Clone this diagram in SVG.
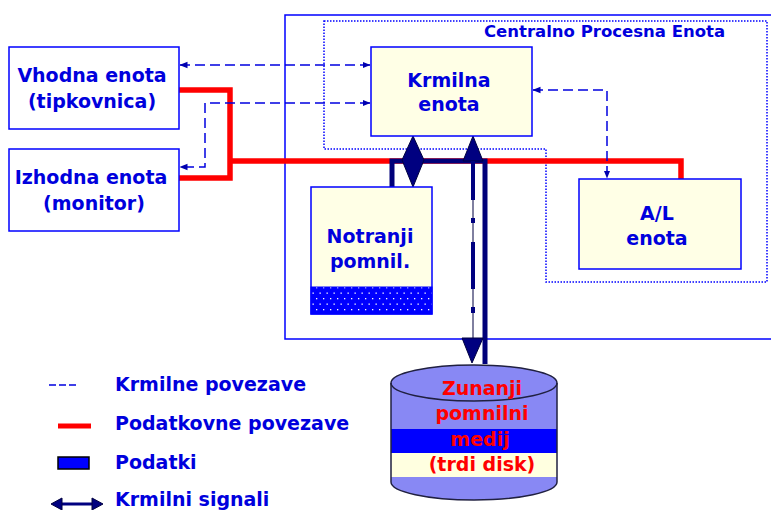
<svg xmlns="http://www.w3.org/2000/svg" width="771" height="510" viewBox="0 0 771 510">
<style>
text{font-family:"DejaVu Sans",Verdana,sans-serif;font-weight:bold;font-size:19px;fill:#0000dd}
.c{text-anchor:middle}
.red{fill:#ff0000}
.box{fill:#ffffff;stroke:#0000ff;stroke-width:1.5}
.ybox{fill:#ffffe6;stroke:#0000ff;stroke-width:1.5}
.ctl{fill:none;stroke:#0000e0;stroke-width:1.5;stroke-dasharray:10 5}
.data{fill:none;stroke:#ff0000;stroke-width:5.5}
.navy{fill:#000080;stroke:#000040;stroke-width:1}
</style>
<defs>
<marker id="ah" viewBox="0 0 8 8" refX="7.5" refY="4" markerWidth="8" markerHeight="8" markerUnits="userSpaceOnUse" orient="auto-start-reverse">
<path d="M0,0.8 L8,4 L0,7.2 z" fill="#0000b0"/>
</marker>
<pattern id="dots" width="7" height="11" patternUnits="userSpaceOnUse">
<rect width="7" height="11" fill="#0000ff"/>
<rect x="1" y="1" width="1.3" height="1.3" fill="#ffffff"/>
<rect x="4.5" y="6.5" width="1.3" height="1.3" fill="#ffffff"/>
</pattern>
<clipPath id="cyl"><path d="M391,383 V482 A83,18 0 0 0 557,482 V383 A83,18 0 0 0 391,383 z"/></clipPath>
</defs>

<g id="cpu-frame">
<rect x="285" y="15" width="500" height="324" fill="none" stroke="#0000ff" stroke-width="1.5"/>
<path d="M324,21 H767 V282 H546 V149 H324 z" fill="none" stroke="#0000ff" stroke-width="1.5" stroke-dasharray="1.5 1.5"/>
<text x="484" y="37" style="font-size:16.5px">Centralno Procesna Enota</text>
</g>

<g id="connectors">
<path class="data" d="M179,90 H230 V178 H179"/>
<path class="data" d="M230,161 H681 V179"/>
<path class="ctl" d="M180,65 H370" marker-start="url(#ah)" marker-end="url(#ah)"/>
<path class="ctl" d="M370,103 H205 V167 H180" marker-start="url(#ah)" marker-end="url(#ah)"/>
<path class="ctl" d="M533,90 H607 V178" marker-start="url(#ah)" marker-end="url(#ah)"/>
<path d="M392,187 V161 H485 V364" fill="none" stroke="#00007a" stroke-width="5"/>
<polygon class="navy" points="413,136 424,160 413,187 402,160"/>
<polygon class="navy" points="473,136 483,161 463,161"/>
<line x1="473" y1="161" x2="473" y2="340" stroke="#000040" stroke-width="1"/>
<g fill="#000080">
<rect x="471" y="161" width="4" height="39"/>
<rect x="471" y="218" width="4" height="5"/>
<rect x="471" y="242" width="4" height="47"/>
<rect x="471" y="307" width="4" height="6"/>
</g>
<polygon class="navy" points="462,338 483,338 472,363"/>
</g>

<g id="vhodna">
<rect class="box" x="9" y="47" width="170" height="82"/>
<text class="c" x="92" y="82">Vhodna enota</text>
<text class="c" x="92" y="108">(tipkovnica)</text>
</g>

<g id="izhodna">
<rect class="box" x="9" y="149" width="170" height="82"/>
<text class="c" x="91" y="184">Izhodna enota</text>
<text class="c" x="94" y="210">(monitor)</text>
</g>

<g id="krmilna">
<rect class="ybox" x="371" y="47" width="161" height="89"/>
<text class="c" x="449" y="87">Krmilna</text>
<text class="c" x="449" y="111">enota</text>
</g>

<g id="al">
<rect class="ybox" x="579" y="179" width="162" height="90"/>
<text class="c" x="657" y="220">A/L</text>
<text class="c" x="657" y="245">enota</text>
</g>

<g id="notranji">
<rect class="ybox" x="311" y="187" width="121" height="127"/>
<rect x="311" y="287" width="121" height="27" fill="url(#dots)" stroke="#0000ff" stroke-width="1"/>
<text class="c" x="370" y="243">Notranji</text>
<text class="c" x="370" y="268">pomnil.</text>
</g>

<g id="disk">
<path d="M391,383 V482 A83,18 0 0 0 557,482 V383 A83,18 0 0 0 391,383 z" fill="#8888f4"/>
<g clip-path="url(#cyl)">
<rect x="391" y="429" width="166" height="24" fill="#0000ff"/>
<rect x="391" y="453" width="166" height="24" fill="#ffffe0"/>
</g>
<path d="M391,383 V482 A83,18 0 0 0 557,482 V383" fill="none" stroke="#202040" stroke-width="1.5"/>
<ellipse cx="474" cy="383" rx="83" ry="18" fill="none" stroke="#202040" stroke-width="1.5"/>
<text class="c red" x="482" y="395">Zunanji</text>
<text class="c red" x="482" y="420">pomnilni</text>
<text class="c red" x="480" y="446">medij</text>
<text class="c red" x="482" y="471">(trdi disk)</text>
</g>

<g id="legend">
<line x1="49" y1="385" x2="77" y2="385" stroke="#0000e0" stroke-width="1.5" stroke-dasharray="7 3"/>
<text x="115" y="391">Krmilne povezave</text>
<line x1="58" y1="426" x2="91" y2="426" stroke="#ff0000" stroke-width="5"/>
<text x="115" y="430">Podatkovne povezave</text>
<rect x="58" y="457" width="31" height="12" fill="#0000ff" stroke="#000000" stroke-width="1.5"/>
<text x="115" y="469">Podatki</text>
<line x1="60" y1="504" x2="94" y2="504" stroke="#000080" stroke-width="3"/>
<polygon class="navy" points="51,504 62,498 62,510"/>
<polygon class="navy" points="103,504 92,498 92,510"/>
<text x="115" y="506">Krmilni signali</text>
</g>
</svg>
